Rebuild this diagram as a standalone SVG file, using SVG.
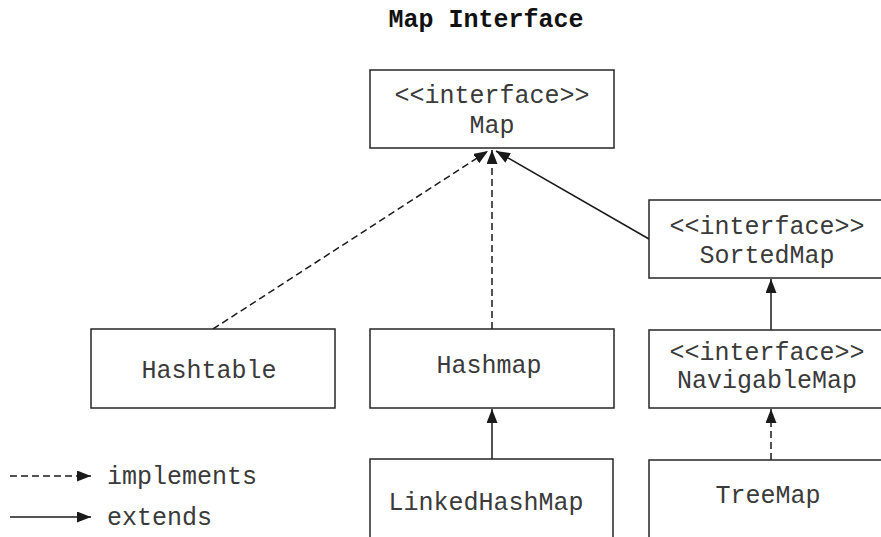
<svg xmlns="http://www.w3.org/2000/svg" width="881" height="537" viewBox="0 0 881 537">
  <defs>
    <marker id="head" viewBox="0 0 14 11" refX="14" refY="5.5" markerWidth="14" markerHeight="11" markerUnits="userSpaceOnUse" orient="auto">
      <path d="M0,0 L14,5.5 L0,11 Z" fill="#1a1a1a"/>
    </marker>
    <style>
      .box { fill: #ffffff; stroke: #262626; stroke-width: 1.5; }
      .lbl { font-family: "Liberation Mono", "Courier New", monospace; font-size: 25px; fill: #3a3a3a; text-anchor: middle; }
      .title { font-family: "Liberation Mono", "Courier New", monospace; font-size: 25px; font-weight: bold; fill: #111111; text-anchor: middle; }
      .leg { font-family: "Liberation Mono", "Courier New", monospace; font-size: 25px; fill: #3a3a3a; }
      .solid { fill: none; stroke: #1a1a1a; stroke-width: 1.5; marker-end: url(#head); }
      .dash { fill: none; stroke: #1a1a1a; stroke-width: 1.5; stroke-dasharray: 7 4; marker-end: url(#head); }
    </style>
  </defs>

  <rect width="881" height="537" fill="#ffffff"/>

  <text class="title" x="486" y="27">Map Interface</text>

  <g id="connectors">
    <line class="dash" x1="213" y1="329" x2="488" y2="151"/>
    <line class="dash" x1="492" y1="329" x2="492" y2="150"/>
    <line class="solid" x1="649" y1="239" x2="496" y2="151"/>
    <line class="solid" x1="771" y1="330" x2="771" y2="279"/>
    <line class="solid" x1="492" y1="459" x2="492" y2="409"/>
    <line class="dash" x1="771" y1="460" x2="771" y2="409"/>
  </g>

  <g id="node-map">
    <rect class="box" x="370" y="70" width="244" height="78"/>
    <text class="lbl" x="492" y="103">&lt;&lt;interface&gt;&gt;</text>
    <text class="lbl" x="492" y="133">Map</text>
  </g>

  <g id="node-sortedmap">
    <rect class="box" x="649" y="200" width="244" height="78"/>
    <text class="lbl" x="767" y="234">&lt;&lt;interface&gt;&gt;</text>
    <text class="lbl" x="767" y="263">SortedMap</text>
  </g>

  <g id="node-hashtable">
    <rect class="box" x="91" y="329" width="244" height="79"/>
    <text class="lbl" x="209" y="378">Hashtable</text>
  </g>

  <g id="node-hashmap">
    <rect class="box" x="370" y="329" width="244" height="79"/>
    <text class="lbl" x="489" y="373">Hashmap</text>
  </g>

  <g id="node-navigablemap">
    <rect class="box" x="649" y="330" width="244" height="78"/>
    <text class="lbl" x="767" y="360">&lt;&lt;interface&gt;&gt;</text>
    <text class="lbl" x="767" y="388">NavigableMap</text>
  </g>

  <g id="node-linkedhashmap">
    <rect class="box" x="370" y="459" width="243" height="90"/>
    <text class="lbl" x="486" y="510">LinkedHashMap</text>
  </g>

  <g id="node-treemap">
    <rect class="box" x="649" y="460" width="244" height="90"/>
    <text class="lbl" x="768" y="503">TreeMap</text>
  </g>

  <g id="legend">
    <line class="dash" x1="10" y1="476" x2="91" y2="476"/>
    <text class="leg" x="107" y="484">implements</text>
    <line class="solid" x1="10" y1="517" x2="91" y2="517"/>
    <text class="leg" x="107" y="525">extends</text>
  </g>
</svg>
